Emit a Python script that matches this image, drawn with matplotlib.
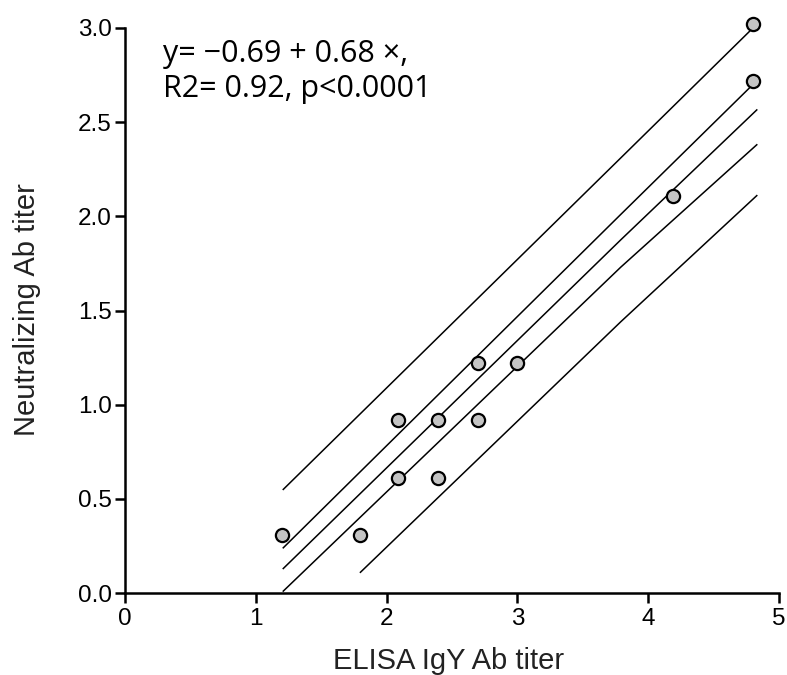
import matplotlib
matplotlib.use("Agg")
import matplotlib.pyplot as plt

# Data points (ELISA IgY Ab titer vs Neutralizing Ab titer)
elisa = [1.20, 1.80, 2.09, 2.09, 2.39, 2.39, 2.70, 2.70, 3.00, 4.19, 4.80, 4.80]
neut = [0.31, 0.31, 0.92, 0.61, 0.92, 0.61, 1.22, 0.92, 1.22, 2.11, 3.02, 2.72]

# Fit line and bands
band_x = [1.21, 3.79, 4.83]
fit_y = [0.13, 1.875, 2.565]
upper_conf = [0.24, 2.01, 2.72]
lower_conf = [0.01, 1.73, 2.38]
upper_pred = [0.55, 2.31, 3.02]
lower_pred_x = [1.80, 3.79, 4.83]
lower_pred = [0.11, 1.44, 2.11]

x_ticks = [0, 1, 2, 3, 4, 5]
y_ticks = [0.0, 0.5, 1.0, 1.5, 2.0, 2.5, 3.0]
eq_line = "y= \u22120.69 + 0.68 \u00d7,"
stat_line = "R2= 0.92, p<0.0001"

plt.rcParams['font.family'] = ['Liberation Sans', 'DejaVu Sans']

fig = plt.figure(figsize=(7.87, 6.75), dpi=100)
ax = fig.add_axes([125/787, 82/675, 654/787, 565/675])

lw = 1.1
ax.plot(band_x, fit_y, color='black', lw=lw, zorder=2)
ax.plot(band_x, upper_conf, color='black', lw=lw, zorder=2)
ax.plot(band_x, lower_conf, color='black', lw=lw, zorder=2)
ax.plot(band_x, upper_pred, color='black', lw=lw, zorder=2)
ax.plot(lower_pred_x, lower_pred, color='black', lw=lw, zorder=2)

ax.plot(elisa, neut, linestyle='none', marker='o', markersize=9.5,
        markerfacecolor='#c4c4c4', markeredgecolor='black',
        markeredgewidth=1.6, zorder=3, clip_on=False)

ax.set_xlim(0, 5)
ax.set_ylim(0, 3)
ax.set_xticks(x_ticks)
ax.set_yticks(y_ticks)
ax.set_xticklabels([str(t) for t in x_ticks])
ax.set_yticklabels([f"{t:.1f}" for t in y_ticks])

for s in ['top', 'right']:
    ax.spines[s].set_visible(False)
for s in ['left', 'bottom']:
    ax.spines[s].set_linewidth(1.8)
ax.tick_params(axis='both', direction='out', length=7.5, width=1.8,
               labelsize=17.5, colors='black')
ax.tick_params(axis='y', pad=2)
ax.tick_params(axis='x', pad=3)

fig.text(449/787, 1 - 669/675, "ELISA IgY Ab titer", fontsize=21,
         ha='center', va='baseline', color='#222222')
fig.text(27/787, 1 - 310/675, "Neutralizing Ab titer", fontsize=21,
         ha='center', va='center', rotation=90, color='#222222')

ann_font = ['Open Sans', 'DejaVu Sans']
fig.text(163/787, 1 - 62/675, eq_line, fontsize=22, family=ann_font,
         ha='left', va='baseline', color='black')
fig.text(163/787, 1 - 97/675, stat_line, fontsize=22, family=ann_font,
         ha='left', va='baseline', color='black')

fig.savefig("out.png", dpi=100)
